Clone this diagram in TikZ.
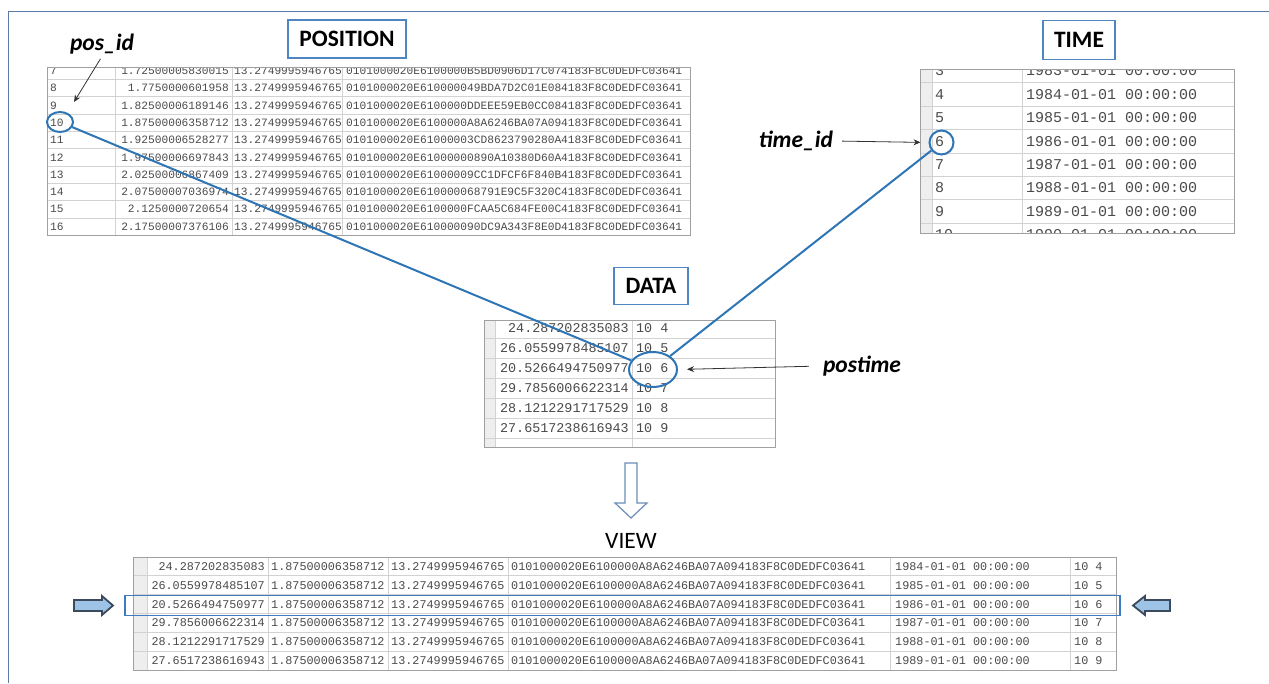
\documentclass[tikz,border=0pt]{standalone}
\usepackage{fontspec}
\setmainfont{Carlito}
\newfontfamily\monofont{Liberation Mono}
\usetikzlibrary{shapes.geometric,arrows.meta}

\definecolor{frameblue}{HTML}{5B7BA6}
\definecolor{titleblue}{HTML}{4F86C2}
\definecolor{linkblue}{HTML}{2E75B6}
\definecolor{rowblue}{HTML}{3D7CC0}
\definecolor{gridgray}{HTML}{D2D2D2}
\definecolor{edgegray}{HTML}{A0A0A0}
\definecolor{cellgray}{HTML}{EEEEEE}
\definecolor{celltext}{HTML}{4A4A4A}
\definecolor{arrowfill}{HTML}{9DC3E6}
\definecolor{arrowedge}{HTML}{3B4A5C}
\definecolor{downedge}{HTML}{6A8DB5}

\begin{document}
\begin{tikzpicture}[x=1pt, y=-1pt,
  titlebox/.style={draw=titleblue, line width=1.3pt, fill=white, inner sep=0pt,
    font=\fontsize{23.5}{26}\selectfont\bfseries},
  tag/.style={font=\fontsize{23.5}{26}\selectfont\bfseries\itshape, inner sep=2pt},
  cellP/.style={font=\monofont\fontsize{11.2}{12}\selectfont, text=celltext, inner sep=0pt},
  cellT/.style={font=\monofont\fontsize{15}{16}\selectfont, text=celltext, inner sep=0pt},
  cellD/.style={font=\monofont\fontsize{13.4}{14}\selectfont, text=celltext, inner sep=0pt},
  cellV/.style={font=\monofont\fontsize{11.8}{12}\selectfont, text=celltext, inner sep=0pt},
  gridline/.style={draw=gridgray, line width=0.8pt},
  tableedge/.style={draw=edgegray, line width=1pt},
  ring/.style={ellipse, draw=linkblue, line width=2pt, inner sep=0pt},
  link/.style={draw=linkblue, line width=2pt},
  pointer/.style={draw=black!80, line width=0.8pt, -{Stealth[length=7pt,width=6pt]}},
  blockarrow/.style={draw=arrowedge, fill=arrowfill, line width=1.8pt, line join=miter},
  downarrow/.style={draw=downedge, fill=white, line width=1.2pt, line join=miter}
]
\useasboundingbox (0,0) rectangle (1269,683);

% outer frame
\draw[frameblue, line width=1pt] (8,683) -- (8,11) -- (1269,11);

% ---------- POSITION table ----------
\fill[white] (47,67) rectangle (690,235.2);
\foreach \k in {0,...,8} \draw[gridline] (47,{79.5+17.3*\k}) -- (690,{79.5+17.3*\k});
\foreach \xx in {115,232,342} \draw[gridline] (\xx,67) -- (\xx,235.2);
\begin{scope}
  \clip (47,67) rectangle (690,235.2);
  \foreach \n/\a/\h [evaluate=\n as \y using 79.5+(\n-8)*17.3+8.65] in {
      7/1.72500005830015/B5BD0906D17C0741,
      8/1.7750000601958/49BDA7D2C01E0841,
      9/1.82500006189146/DDEEE59EB0CC0841,
      10/1.87500006358712/A8A6246BA07A0941,
      11/1.92500006528277/3CD8623790280A41,
      12/1.97500006697843/0890A10380D60A41,
      13/2.02500006867409/9CC1DFCF6F840B41,
      14/2.07500007036974/68791E9C5F320C41,
      15/2.1250000720654/FCAA5C684FE00C41,
      16/2.17500007376106/90DC9A343F8E0D41} {
    \node[cellP, anchor=west] (pid\n) at (50,\y) {\n};
    \node[cellP, anchor=east] (plon\n) at (229,\y) {\a};
    \node[cellP, anchor=west] (plat\n) at (234,\y) {13.2749995946765};
    \node[cellP, anchor=west] (pgeo\n) at (346,\y) {0101000020E6100000\h83F8C0DEDFC03641};
  }
\end{scope}
\draw[tableedge] (47,67) rectangle (690,235.2);

% ---------- TIME table ----------
\fill[white] (920,69) rectangle (1234,233);
\fill[cellgray] (920,69) rectangle (932,233);
\foreach \k in {0,...,6} \draw[gridline] (920,{82.7+23.4*\k}) -- (1234,{82.7+23.4*\k});
\foreach \xx in {932,1022} \draw[gridline] (\xx,69) -- (\xx,233);
\begin{scope}
  \clip (920,69) rectangle (1234,233);
  \foreach \k [evaluate=\k as \y using 94.4+(\k-4)*23.4,
               evaluate=\k as \yr using int(1980+\k)] in {3,...,10} {
    \node[cellT, anchor=west] (tid\k) at (935,\y) {\k};
    \node[cellT, anchor=west] (tdate\k) at (1026,\y) {\yr-01-01 00:00:00};
  }
\end{scope}
\draw[tableedge] (920,69) rectangle (1234,233);

% ---------- DATA table ----------
\fill[white] (484,320) rectangle (775,447);
\fill[cellgray] (484,320) rectangle (495,447);
\foreach \k in {0,...,5} \draw[gridline] (484,{338+20*\k}) -- (775,{338+20*\k});
\foreach \xx in {495,632} \draw[gridline] (\xx,320) -- (\xx,447);
\foreach \v/\t [count=\i from 0, evaluate=\i as \y using 328.5+20*\i] in {
    24.287202835083/4, 26.0559978485107/5, 20.5266494750977/6,
    29.7856006622314/7, 28.1212291717529/8, 27.6517238616943/9} {
  \node[cellD, anchor=east] (dval\t) at (629,\y) {\v};
  \node[cellD, anchor=west] (dkey\t) at (636,\y) {10 \t};
}
\draw[tableedge] (484,320) rectangle (775,447);

% ---------- VIEW table ----------
\fill[white] (133,557) rectangle (1116,670);
\fill[cellgray] (133,557) rectangle (147,670);
\foreach \k in {0,...,4} \draw[gridline] (133,{575.8+18.83*\k}) -- (1116,{575.8+18.83*\k});
\foreach \xx in {147,268,388,508,890,1070} \draw[gridline] (\xx,557) -- (\xx,670);
\foreach \v/\t [count=\i from 0, evaluate=\i as \y using 566.6+18.83*\i,
                evaluate=\i as \yr using int(1984+\i)] in {
    24.287202835083/4, 26.0559978485107/5, 20.5266494750977/6,
    29.7856006622314/7, 28.1212291717529/8, 27.6517238616943/9} {
  \node[cellV, anchor=east] (vval\t) at (265,\y) {\v};
  \node[cellV, anchor=west] (vlon\t) at (271,\y) {1.87500006358712};
  \node[cellV, anchor=west] (vlat\t) at (391,\y) {13.2749995946765};
  \node[cellV, anchor=west] (vgeo\t) at (511,\y) {0101000020E6100000A8A6246BA07A094183F8C0DEDFC03641};
  \node[cellV, anchor=west] (vdate\t) at (895,\y) {\yr-01-01 00:00:00};
  \node[cellV, anchor=west] (vkey\t) at (1074,\y) {10 \t};
}
\draw[tableedge] (133,557) rectangle (1116,670);

% highlighted joined row
\draw[rowblue, line width=1.5pt] (125,595.5) rectangle (1120,615.5);

% side markers for the highlighted row
\draw[blockarrow] (74,600) -- (102,600) -- (102,596) -- (113,605.5) -- (102,615)
  -- (102,611) -- (74,611) -- cycle;
\draw[blockarrow] (1170,600) -- (1145,600) -- (1145,596) -- (1133,605.5) -- (1145,615)
  -- (1145,611) -- (1170,611) -- cycle;

% ---------- titles ----------
\node[titlebox, minimum width=118pt, minimum height=38pt] (postitle) at (347,39) {POSITION};
\node[titlebox, minimum width=72pt, minimum height=39pt] (timetitle) at (1079,40) {TIME};
\node[titlebox, minimum width=74pt, minimum height=37pt] (datatitle) at (651,286) {DATA};

% derivation arrow and view title
\draw[downarrow] (625,463) -- (637,463) -- (637,503) -- (647,503) -- (631,518)
  -- (615,503) -- (625,503) -- cycle;
\node[font=\fontsize{23.5}{26}\selectfont, inner sep=0pt] (viewtitle) at (631,541) {VIEW};

% ---------- key rings and links ----------
\node[ring, minimum width=26pt, minimum height=20pt] (poscirc) at (60,122) {};
\node[ring, minimum width=24pt, minimum height=24pt] (timecirc) at (941.5,142.5) {};
\node[ring, minimum width=48pt, minimum height=35pt] (datacirc) at (653,369.5) {};
\draw[link] (poscirc) -- (datacirc);
\draw[link] (timecirc) -- (datacirc);

% ---------- key labels ----------
\node[tag] (posid) at (102,44) {pos\_id};
\coordinate (posidtip) at (74,102);
\draw[pointer, shorten <=3pt] (posid.south) -- (posidtip);

\node[tag] (timeid) at (796,141) {time\_id};
\draw[pointer, shorten <=7pt, shorten >=8pt] (timeid.east) -- (timecirc.west);

\node[tag] (postime) at (862,366) {postime};
\draw[pointer, shorten <=12pt, shorten >=9pt] (postime.west) -- (datacirc.east);
\end{tikzpicture}
\end{document}
